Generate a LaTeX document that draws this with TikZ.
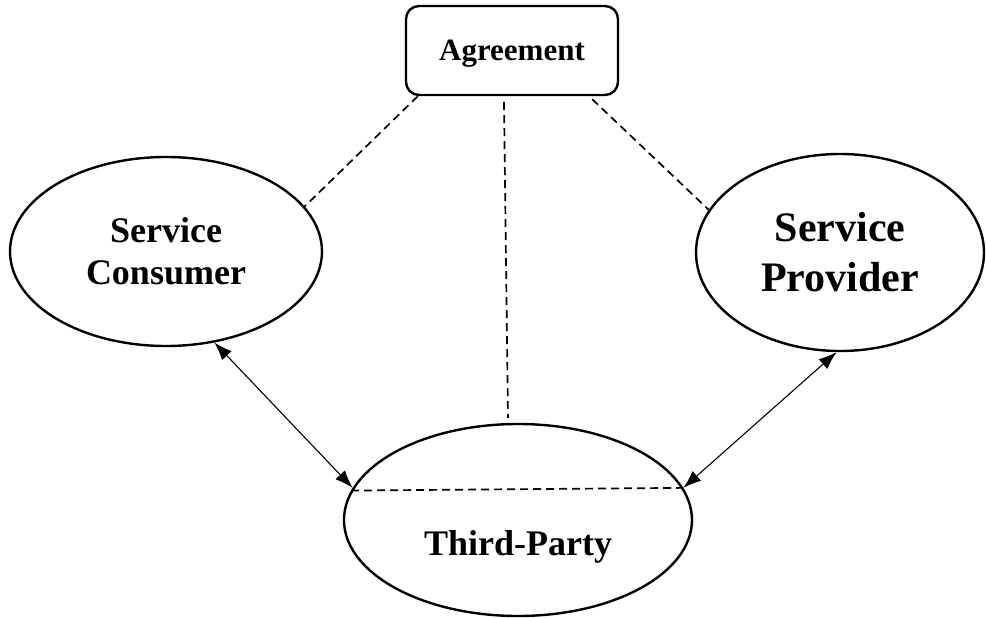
\documentclass[tikz,border=0pt]{standalone}
\usepackage{fontspec}
\setmainfont{Liberation Serif}
\usetikzlibrary{shapes.geometric,arrows.meta}
\begin{document}
\begin{tikzpicture}[x=1pt,y=-1pt,
  party/.style={draw, ellipse, line width=2.4pt, inner sep=0pt, align=center},
  pact/.style={draw, rectangle, rounded corners=13pt, line width=2.4pt, inner sep=0pt},
  tie/.style={dash pattern=on 8pt off 5pt, line width=1.7pt},
  flow/.style={line width=1.1pt, {Latex[length=18pt,width=13pt]}-{Latex[length=18pt,width=13pt]}}]
\useasboundingbox (0,0) rectangle (986,618);

% the agreement box
\node[pact, minimum width=212pt, minimum height=89pt, text depth=0pt,
      font=\fontsize{31}{36}\selectfont\bfseries] (agr) at (512,50.5) {Agreement};

% the three parties
\node[party, minimum width=312pt, minimum height=189pt,
      font=\fontsize{36}{42}\selectfont\bfseries] (cons) at (166,251.5) {Service\\Consumer};
\node[party, minimum width=288pt, minimum height=197pt,
      font=\fontsize{42}{50}\selectfont\bfseries] (prov) at (840,252.5) {Service\\Provider};
\node[party, minimum width=348pt, minimum height=192pt,
      label={[yshift=-27pt, font=\fontsize{36}{42}\selectfont\bfseries]center:Third-Party}] (third) at (518,520) {};

% dashed ties to the agreement
\draw[tie] ([xshift=13pt]agr.south west) -- (cons.18.5);
\draw[tie] ([xshift=-27pt,yshift=-3pt]agr.south east) -- (prov.162.3);
\draw[tie] ([xshift=-8pt,yshift=-6pt]agr.south) -- ([xshift=-10pt,yshift=5pt]third.north);
\draw[tie] (third.170) -- (third.11);

% two-way exchanges with the third party
\draw[flow] (cons.-62.6) -- (third.169.5);
\draw[flow] (prov.-92) -- (third.11.8);
\end{tikzpicture}
\end{document}
